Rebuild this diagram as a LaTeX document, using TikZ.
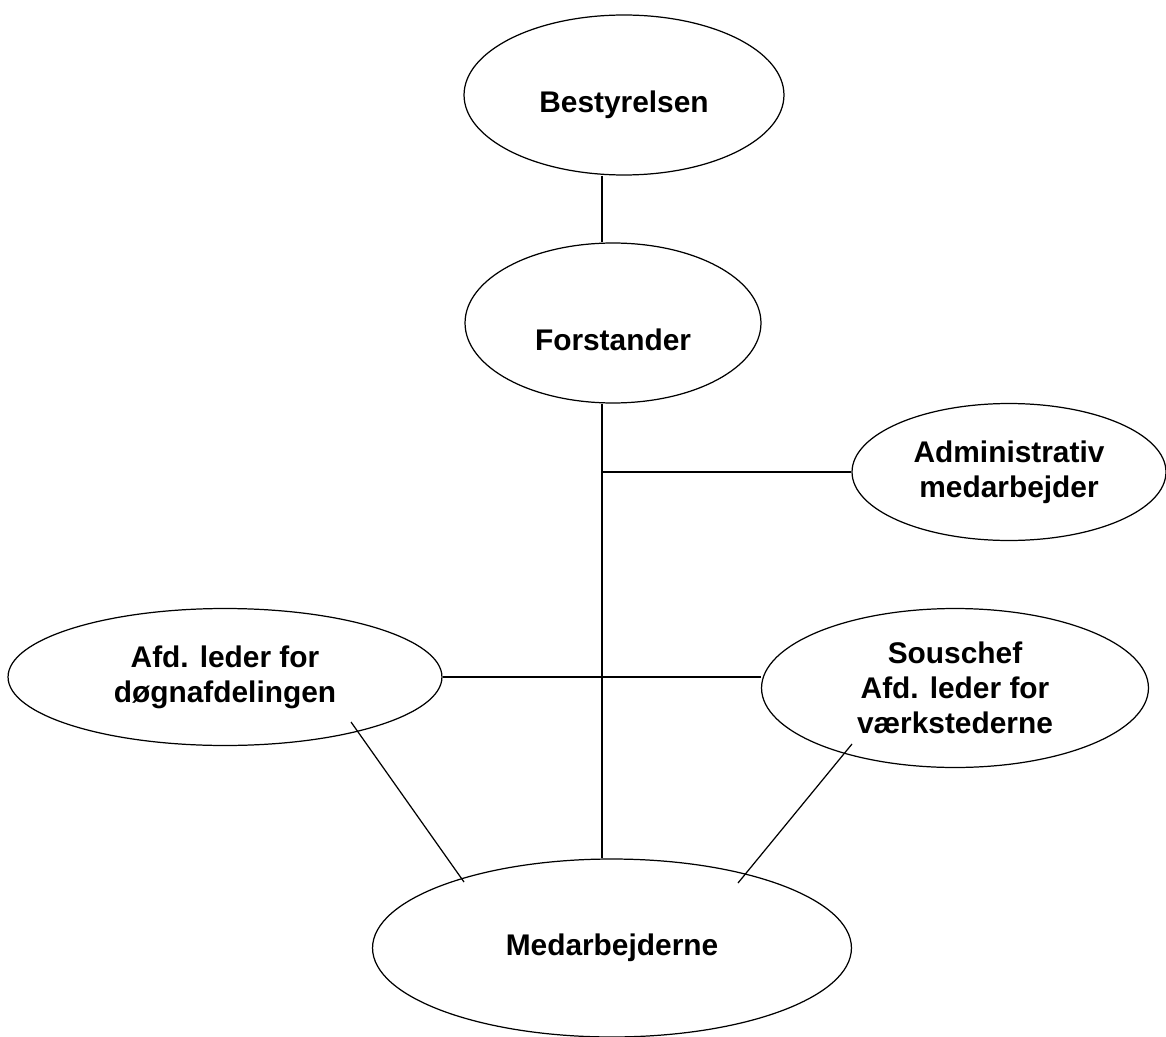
\documentclass[tikz,border=0pt]{standalone}
\usepackage{fontspec}
\setmainfont{Liberation Sans}
\usetikzlibrary{shapes.geometric,calc}

\begin{document}
\begin{tikzpicture}[x=0.02cm, y=-0.02cm, line width=0.7pt,
	unit/.style={ellipse, draw=black, inner sep=0pt, align=center, font=\fontsize{17}{20}\selectfont\bfseries}]
			\useasboundingbox (0,0) rectangle (1166,1037);
			\node[unit, minimum width=6.4cm, minimum height=3.2cm, text height=0.72cm, text depth=0pt] (best) at (624,95){Bestyrelsen};
			\node[unit, minimum width=5.92cm, minimum height=3.2cm, text height=1.12cm, text depth=0pt] (forst) at (613,323){Forstander};
			\node[unit, minimum width=6.28cm, minimum height=2.74cm] (admin) at (1009,472){Administrativ\\medarbejder};
			\node[unit, minimum width=8.68cm, minimum height=2.74cm] (afd) at (225,677){Afd. leder for\\døgnafdelingen};
			\node[unit, minimum width=7.74cm, minimum height=3.18cm] (sous) at (955,688){Souschef\\Afd. leder for\\værkstederne};
			\node[unit, minimum width=9.58cm, minimum height=3.56cm] (med) at (612,948){Medarbejderne};
			\coordinate (spine) at (602,0);
			
			\path (spine |- best.south) edge (spine |- forst.north);
			\path (spine |- forst.south) edge (spine |- med.north);
			\path (spine |- admin.west) edge (admin.west);
			\path (afd.east) edge (afd.east -| sous.west);
			\path ($(afd.center)+(126,45)$) edge ($(med.center)+(-148,-66)$);
			\path ($(sous.center)+(-103,56)$) edge ($(med.center)+(126,-65)$);
			\end{tikzpicture}
\end{document}
